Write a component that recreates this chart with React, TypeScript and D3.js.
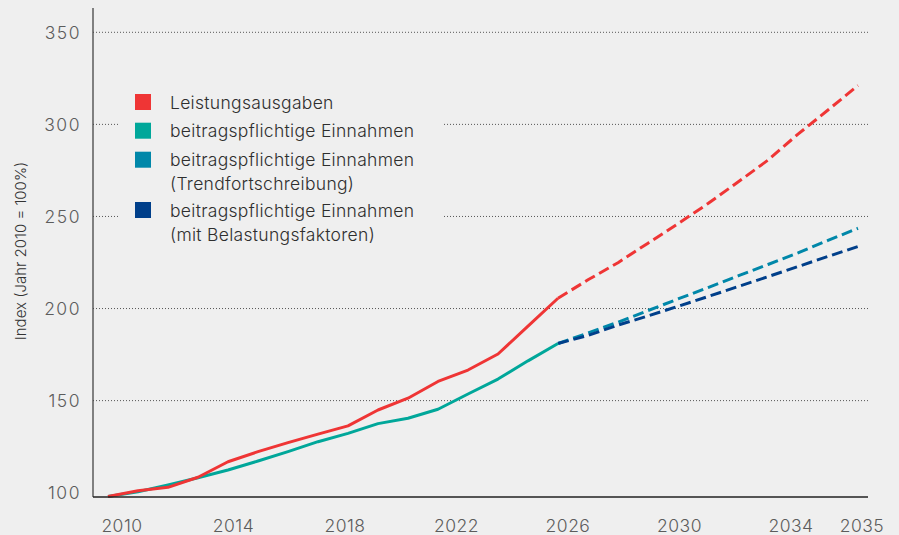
import React from "react";
import * as d3 from "d3";

const years = d3.range(2010, 2036);
const histYears = years.filter((y) => y <= 2025);
const projYears = years.filter((y) => y >= 2025);

const ausgabenHist = [97.9, 101.1, 102.9, 108.4, 116.8, 122.3, 127.2, 131.8, 136.3, 144.9, 151.3, 160.4, 166.6, 175.3, 190.5, 205.6];
const ausgabenProj = [205.6, 215.6, 224.9, 235.5, 246.1, 257.0, 268.7, 280.6, 294.7, 307.8, 321.1];
const einnahmenHist = [97.9, 100.5, 104.2, 108.1, 112.3, 117.2, 122.3, 127.7, 132.2, 137.5, 140.4, 145.3, 153.6, 161.7, 171.6, 181.0];
const trendProj = [181.0, 186.7, 192.6, 198.9, 205.2, 211.4, 217.7, 223.9, 230.2, 237.0, 243.6];
const belastungProj = [181.0, 185.4, 191.0, 196.0, 201.2, 206.5, 211.9, 217.3, 222.8, 228.3, 233.7];

const yTicks = [100, 150, 200, 250, 300, 350];
const xTickLabels = [2010, 2014, 2018, 2022, 2026, 2030, 2034, 2035];

const legendItems = [
  { lines: ["Leistungsausgaben"], color: "#ef3535" },
  { lines: ["beitragspflichtige Einnahmen"], color: "#00a79a" },
  { lines: ["beitragspflichtige Einnahmen", "(Trendfortschreibung)"], color: "#0087a9" },
  { lines: ["beitragspflichtige Einnahmen", "(mit Belastungsfaktoren)"], color: "#003f8a" },
];

const W = 899;
const H = 535;
const BG = "#efefef";
const FONT = "Inter, 'Noto Sans', sans-serif";

export default function App() {
  const yMin = 97.7;
  const y = d3.scaleLinear().domain([100, 350]).range([492.7, 32.3]);
  const x = d3.scaleLinear().domain([2010, 2035]).range([108, 858]);
  const xLabel = d3.scaleLinear().domain([2010, 2034, 2035]).range([122, 791, 862]);
  const axisLeft = 93;
  const axisRight = 868;
  const axisBottom = y(yMin);

  const line = d3
    .line<[number, number]>()
    .x((d) => x(d[0]))
    .y((d) => y(d[1]));

  const pts = (yrs: number[], vals: number[]) => yrs.map((yr, i) => [yr, vals[i]] as [number, number]);

  const series = [
    { d: pts(projYears, trendProj), color: "#0087a9", dash: "11,5" },
    { d: pts(projYears, belastungProj), color: "#003f8a", dash: "11,5" },
    { d: pts(projYears, ausgabenProj), color: "#ef3535", dash: "11,5" },
    { d: pts(histYears, einnahmenHist), color: "#00a79a", dash: undefined },
    { d: pts(histYears, ausgabenHist), color: "#ef3535", dash: undefined },
  ];

  return (
    <svg
      width={W}
      height={H}
      style={{ position: "absolute", left: 0, top: 0, fontFamily: FONT }}
    >
      <rect x={0} y={0} width={W} height={H} fill={BG} />
      {yTicks
        .filter((t) => t > 100)
        .map((t) => (
          <line
            key={t}
            x1={axisLeft}
            x2={axisRight}
            y1={y(t)}
            y2={y(t)}
            stroke="#555"
            strokeWidth={1}
            strokeDasharray="1,2"
          />
        ))}
      {yTicks.map((t) => (
        <text
          key={t}
          x={81}
          y={y(t)}
          textAnchor="end"
          dominantBaseline="central"
          fontSize={17.5}
          fontWeight={300}
          fill="#5c5c5c"
          letterSpacing={1.5}
        >
          {t}
        </text>
      ))}
      {/* legend background covering gridlines */}
      <rect x={120} y={84} width={323} height={162} fill={BG} />
      {legendItems.map((item, i) => {
        const rowY = [102, 130.7, 159.7, 210][i];
        return (
          <g key={i}>
            <rect x={135} y={rowY - 8} width={16} height={16} fill={item.color} />
            {item.lines.map((ln, j) => (
              <text
                key={j}
                x={170}
                y={rowY + 6.5 + j * 24}
                fontSize={17.5}
                fontWeight={300}
                fill="#2e2e2e"
                letterSpacing={0.3}
              >
                {ln}
              </text>
            ))}
          </g>
        );
      })}
      {series.map((s, i) => (
        <path
          key={i}
          d={line(s.d) || ""}
          fill="none"
          stroke={s.color}
          strokeWidth={3}
          strokeDasharray={s.dash}
          strokeLinejoin="round"
        />
      ))}
      <line x1={axisLeft} x2={axisLeft} y1={8} y2={axisBottom} stroke="#444" strokeWidth={1.3} />
      <line x1={axisLeft} x2={axisRight} y1={axisBottom} y2={axisBottom} stroke="#222" strokeWidth={1.5} />
      {xTickLabels.map((t) => (
        <text
          key={t}
          x={xLabel(t)}
          y={532}
          textAnchor="middle"
          fontSize={17.5}
          fontWeight={300}
          fill="#5c5c5c"
          letterSpacing={0.5}
        >
          {t}
        </text>
      ))}
      <text
        transform={`translate(26,251) rotate(-90)`}
        textAnchor="middle"
        fontSize={15}
        fontWeight={300}
        fill="#333"
      >
        Index (Jahr 2010 = 100%)
      </text>
    </svg>
  );
}
